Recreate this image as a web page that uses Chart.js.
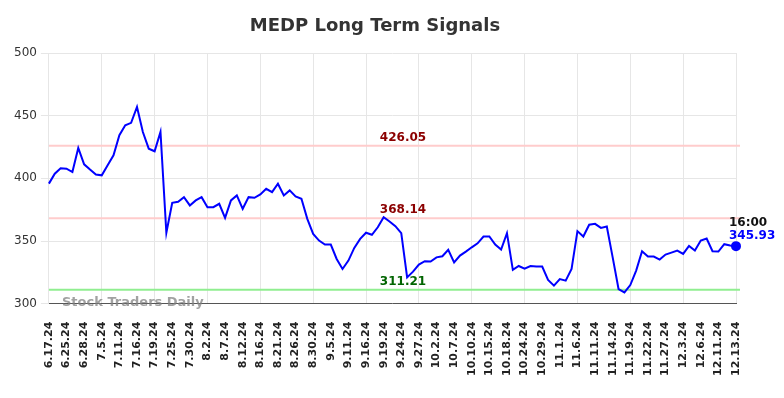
<!DOCTYPE html>
<html>
<head>
<meta charset="utf-8">
<title>MEDP Long Term Signals</title>
<script src="https://cdn.jsdelivr.net/npm/chart.js@4.4.1/dist/chart.umd.min.js"></script>
<style>
  html, body { margin: 0; padding: 0; background: #fff; }
</style>
</head>
<body>
<canvas id="medp-chart" width="784" height="398"></canvas>
<script>
// trading dates (every 3rd one is shown on the axis)
let dates = [
  '6.17.24', '6.20.24', '6.21.24', '6.25.24', '6.26.24', '6.27.24', '6.28.24', '7.1.24', '7.3.24', '7.5.24',
  '7.9.24', '7.10.24', '7.11.24', '7.12.24', '7.15.24', '7.16.24', '7.17.24', '7.18.24', '7.19.24', '7.23.24',
  '7.24.24', '7.25.24', '7.26.24', '7.29.24', '7.30.24', '7.31.24', '8.1.24', '8.2.24', '8.5.24', '8.6.24',
  '8.7.24', '8.8.24', '8.9.24', '8.12.24', '8.14.24', '8.15.24', '8.16.24', '8.19.24', '8.20.24', '8.21.24',
  '8.22.24', '8.23.24', '8.26.24', '8.27.24', '8.28.24', '8.30.24', '9.3.24', '9.4.24', '9.5.24', '9.6.24',
  '9.9.24', '9.11.24', '9.12.24', '9.13.24', '9.16.24', '9.17.24', '9.18.24', '9.19.24', '9.20.24', '9.23.24',
  '9.24.24', '9.25.24', '9.26.24', '9.27.24', '9.30.24', '10.1.24', '10.2.24', '10.3.24', '10.4.24', '10.7.24',
  '10.8.24', '10.9.24', '10.10.24', '10.11.24', '10.14.24', '10.15.24', '10.16.24', '10.17.24', '10.18.24', '10.21.24',
  '10.23.24', '10.24.24', '10.25.24', '10.28.24', '10.29.24', '10.30.24', '10.31.24', '11.1.24', '11.4.24', '11.5.24',
  '11.6.24', '11.7.24', '11.8.24', '11.11.24', '11.12.24', '11.13.24', '11.14.24', '11.15.24', '11.18.24', '11.19.24',
  '11.20.24', '11.21.24', '11.22.24', '11.25.24', '11.26.24', '11.27.24', '11.29.24', '12.2.24', '12.3.24', '12.4.24',
  '12.5.24', '12.6.24', '12.9.24', '12.10.24', '12.11.24', '12.12.24', '12.13.24', '12.13.24'
];

// closing prices
let prices = [
  395.8, 403.7, 408.0, 407.7, 405.0, 424.3, 411.2, 407.0, 403.0, 402.4,
  410.4, 418.4, 434.4, 442.4, 444.3, 457.0, 437.0, 423.7, 421.6, 437.0,
  356.6, 380.5, 381.3, 385.0, 378.4, 382.4, 385.0, 377.0, 377.0, 379.7,
  368.5, 382.4, 386.4, 375.7, 385.0, 384.5, 387.2, 391.7, 389.0, 395.7,
  386.4, 390.4, 385.6, 383.7, 367.7, 355.7, 350.4, 347.2, 347.2, 335.7,
  327.7, 334.4, 344.5, 351.7, 356.6, 355.0, 361.0, 369.0, 365.6, 361.9,
  356.3, 321.0, 325.6, 331.2, 333.9, 333.6, 337.0, 337.9, 343.0, 333.0,
  338.4, 341.6, 345.0, 348.2, 353.6, 353.6, 347.2, 343.2, 356.3, 327.0,
  330.1, 328.0, 330.1, 329.6, 329.6, 319.0, 314.4, 319.7, 318.4, 327.7,
  357.9, 353.6, 363.0, 363.7, 360.5, 361.6, 337.0, 311.7, 309.0, 314.9,
  326.4, 341.9, 337.6, 337.6, 335.2, 339.2, 340.8, 342.4, 339.7, 346.1,
  342.4, 350.4, 352.0, 341.9, 341.6, 347.5, 346.4, 345.93
];

let yTicks = [300, 350, 400, 450, 500];

// signal levels: two resistance (red) and one support (green)
let levels = [426.05, 368.14, 311.21];
let levelLine = ['#ffcccc', '#ffcccc', '#90ee90'];
let levelText = ['#8b0000', '#8b0000', '#006400'];

let lastTime = '16:00';
let lastIndex = prices.length - 1;

let font = 'DejaVu Sans';

// draws signal lines, labels, title and watermark
let signalPlugin = {
  id: 'signals',
  beforeDatasetsDraw(chart) {
    let ctx = chart.ctx;
    let area = chart.chartArea;
    let y = chart.scales.y;
    ctx.save();
    levels.forEach((lvl, i) => {
      let py = y.getPixelForValue(lvl);
      ctx.strokeStyle = levelLine[i];
      ctx.lineWidth = 2;
      ctx.beginPath();
      ctx.moveTo(area.left, py);
      ctx.lineTo(area.right + 4, py);
      ctx.stroke();
    });
    // watermark
    ctx.font = 'bold 13px ' + font;
    ctx.fillStyle = 'rgba(130,130,130,0.75)';
    ctx.textAlign = 'left';
    ctx.textBaseline = 'middle';
    ctx.fillText('Stock Traders Daily', 62, y.getPixelForValue(300) - 1);
    ctx.restore();
  },
  afterDatasetsDraw(chart) {
    let ctx = chart.ctx;
    let x = chart.scales.x;
    let y = chart.scales.y;
    ctx.save();
    ctx.font = 'bold 12px ' + font;
    ctx.textAlign = 'center';
    ctx.textBaseline = 'middle';
    levels.forEach((lvl, i) => {
      ctx.fillStyle = levelText[i];
      ctx.fillText(lvl.toFixed(2), 403, y.getPixelForValue(lvl) - 8);
    });

    // last value tag
    let px = x.getPixelForValue(lastIndex);
    let py = y.getPixelForValue(prices[lastIndex]);
    ctx.textAlign = 'left';
    ctx.fillStyle = '#111';
    ctx.fillText(lastTime, px - 7, py - 23);
    ctx.fillStyle = '#0000ff';
    ctx.fillText(prices[lastIndex].toFixed(2), px - 7, py - 10);

    // title
    ctx.font = 'bold 18px ' + font;
    ctx.fillStyle = '#333';
    ctx.textAlign = 'center';
    ctx.fillText('MEDP Long Term Signals', 375, 26);
    ctx.restore();
  }
};

let canvas = document.querySelector('#medp-chart');
let context = canvas.getContext('2d');

let chart = new Chart(context, {
  type: 'line',
  data: {
    labels: dates,
    datasets: [
      {
        label: 'MEDP',
        data: prices,
        borderColor: '#0000ff',
        backgroundColor: '#0000ff',
        borderWidth: 2,
        tension: 0,
        pointRadius: (c) => (c.dataIndex === lastIndex ? 4 : 0),
        pointHoverRadius: 4,
      },
    ],
  },
  options: {
    responsive: false,
    animation: false,
    layout: { padding: { top: 53, right: 48, bottom: 4, left: 10 } },
    plugins: {
      legend: { display: false },
      title: { display: false },
      tooltip: { enabled: false },
    },
    scales: {
      x: {
        grid: {
          color: (c) => (c.index % 3 === 0 ? '#e6e6e6' : 'rgba(0,0,0,0)'),
          drawTicks: false,
        },
        border: { color: '#555', width: 1 },
        ticks: {
          autoSkip: false,
          minRotation: 90,
          maxRotation: 90,
          padding: 18,
          color: '#222',
          font: { family: font, size: 11, weight: 'bold' },
          callback: (v, i) => (i % 3 === 0 ? dates[i] : null),
        },
      },
      y: {
        min: 300,
        max: 500,
        afterBuildTicks: (axis) => {
          axis.ticks = yTicks.map((v) => ({ value: v }));
        },
        grid: { color: '#e6e6e6' },
        border: { color: '#e6e6e6' },
        ticks: {
          color: '#333',
          padding: 4,
          font: { family: font, size: 12 },
        },
      },
    },
  },
  plugins: [signalPlugin],
});
</script>
</body>
</html>
